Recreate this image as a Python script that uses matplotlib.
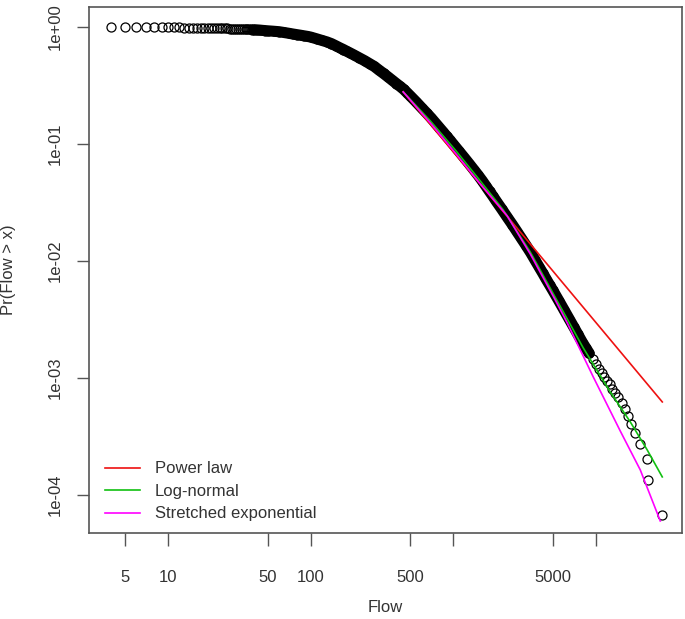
import matplotlib
matplotlib.use("Agg")
import matplotlib.pyplot as plt
import numpy as np

plt.rcParams['font.family'] = ['Liberation Sans', 'DejaVu Sans']

flow = [4, 5, 6, 7, 8, 9, 10, 11, 12, 13, 14, 15, 16, 17, 18, 19, 20,
        21, 22, 23, 24, 25, 26, 27, 28, 29, 30, 31, 32, 33, 34, 35, 36, 37,
        38, 39, 40, 42, 44, 46, 48, 50, 55, 60,
        65, 70, 75, 80, 85, 90, 95, 100, 110, 120, 130, 140, 150, 160, 170,
        180, 190, 200, 220, 240, 260, 280, 300, 325, 350, 375, 400, 425, 450,
        475, 500, 550, 600, 650, 700, 750, 800, 850, 900, 950, 1000, 1100,
        1200, 1300, 1400, 1500, 1600, 1700, 1800, 1900, 2000, 2200, 2400,
        2600, 2800, 3000, 3250, 3500, 3750, 4000, 4250, 4500, 4750, 5000,
        5500, 6000, 6500, 7000, 7500, 8000, 8500, 9000, 9500, 10000, 10500,
        11000, 11500, 12000, 12600, 13000, 13700, 14300, 15200, 16000, 16900,
        17600, 18800, 20400, 22800, 23300, 29100]
prob = [1.000, 0.998, 0.996, 0.994, 0.993, 0.991, 0.990, 0.989, 0.988,
        0.986, 0.985, 0.984, 0.983, 0.982, 0.981, 0.980, 0.979,
        0.977, 0.975, 0.973, 0.971, 0.970, 0.968, 0.966, 0.965, 0.963,
        0.962, 0.960, 0.959, 0.957, 0.956, 0.955, 0.954, 0.952,
        0.950, 0.948, 0.945, 0.941, 0.937, 0.932, 0.928, 0.924, 0.916, 0.908,
        0.894, 0.881, 0.868, 0.857, 0.847, 0.837, 0.828, 0.817, 0.790,
        0.765, 0.743, 0.718, 0.689, 0.662, 0.639, 0.616, 0.596, 0.577,
        0.542, 0.512, 0.483, 0.458, 0.429, 0.399, 0.372, 0.348, 0.327,
        0.309, 0.2917, 0.2733, 0.2567, 0.2280, 0.2035, 0.1836, 0.1665,
        0.1509, 0.1376, 0.1262, 0.1161, 0.1074, 0.0994, 0.0863, 0.0758,
        0.0671, 0.0598, 0.0537, 0.0483, 0.0434, 0.0392, 0.0357, 0.0325,
        0.0275, 0.0235, 0.0204, 0.0178, 0.01566, 0.01351, 0.01173, 0.01016,
        0.00889, 0.00785, 0.00695, 0.00622, 0.00560, 0.00458, 0.00380,
        0.00320, 0.00273, 0.00235, 0.00204, 0.00181, 0.00162, 0.001456,
        0.001304, 0.001201, 0.00111, 0.00102, 0.00094, 8.8e-4, 8.1e-4,
        7.4e-4, 6.8e-4, 6.1e-4, 5.4e-4, 4.7e-4, 4.05e-4, 3.4e-4, 2.7e-4,
        2.03e-4, 1.35e-4, 6.8e-5]

# fitted models
pl_x = [446, 29300]
pl_y = [0.278, 6.23e-4]

ln_x = [446, 690, 1033, 1547, 2243, 3470, 5368, 8172, 12640, 17465, 22980, 29290]
ln_y = [0.278, 0.1573, 0.0888, 0.0483, 0.0273, 0.01194, 0.00455, 0.001805,
        7.59e-4, 4.21e-4, 2.42e-4, 1.425e-4]

se_x = [446, 690, 1033, 1547, 2393, 3470, 5197, 6310, 9605, 14856, 20530, 28360]
se_y = [0.278, 0.1512, 0.0838, 0.0455, 0.02424, 0.01148, 0.004642, 0.002953,
        0.00102, 3.52e-4, 1.636e-4, 5.99e-5]

xticks = [5, 10, 50, 100, 500, 1000, 5000, 10000]
xlabels = ['5', '10', '50', '100', '500', '', '5000', '']
yticks = [1, 0.1, 0.01, 0.001, 0.0001]
ylabels = ['1e+00', '1e-01', '1e-02', '1e-03', '1e-04']

fig = plt.figure(figsize=(6.85, 6.19), dpi=100)
ax = fig.add_axes([0.130, 0.139, 0.866, 0.850])

flow_a = np.array(flow)
prob_a = np.array(prob)
# thousands of overlapping circles merge into a solid band here
dense = (flow_a >= 40) & (flow_a <= 9000)
ax.plot(flow_a[dense], prob_a[dense], color='black', lw=8,
        solid_capstyle='round', solid_joinstyle='round', zorder=2)
ax.plot(flow_a, prob_a, 'o', mfc='none', mec='black', ms=6.5, mew=0.9,
        zorder=2)

ax.plot(pl_x, pl_y, color='#ee1111', lw=1.2, label='Power law', zorder=3)
ax.plot(ln_x, ln_y, color='#11c011', lw=1.2, label='Log-normal', zorder=3)
ax.plot(se_x, se_y, color='#ff00ff', lw=1.2, label='Stretched exponential', zorder=3)

ax.set_xscale('log')
ax.set_yscale('log')
ax.set_xlim(2.79, 40460)
ax.set_ylim(4.73e-5, 1.482)

ax.set_xticks(xticks)
ax.set_xticklabels(xlabels)
ax.set_yticks(yticks)
ax.set_yticklabels(ylabels, rotation=90, va='center')
ax.minorticks_off()
ax.tick_params(axis='x', length=9, width=1, color='#555555', pad=18,
               labelsize=12, labelcolor='#333333')
ax.tick_params(axis='y', length=9, width=1, color='#555555', pad=10,
               labelsize=12, labelcolor='#333333')
for s in ax.spines.values():
    s.set_color('#555555')
    s.set_linewidth(1.2)

fig.text(385.5 / 685, 1 - 608 / 619, 'Flow', ha='center', va='center',
         fontsize=12, color='#333333')
fig.text(9 / 685, 1 - 270 / 619, 'Pr(Flow > x)', ha='center', va='center',
         rotation=90, fontsize=12, color='#333333')

ax.legend(loc='lower left', bbox_to_anchor=(0.027, 0.022), frameon=False,
          borderpad=0, borderaxespad=0, handlelength=2.1, handletextpad=0.9,
          labelspacing=0.45, fontsize=12, labelcolor='#333333')

fig.savefig('out.png', dpi=100)
